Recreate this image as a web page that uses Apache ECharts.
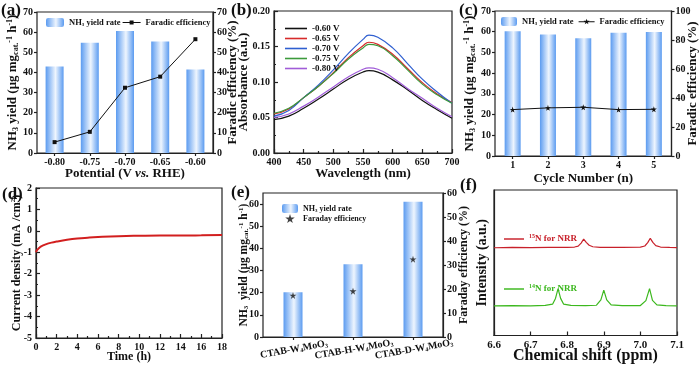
<!DOCTYPE html>
<html>
<head>
<meta charset="utf-8">
<script src="https://cdn.jsdelivr.net/npm/echarts@6/dist/echarts.min.js"></script>
<style>html,body{margin:0;padding:0;background:#fff}#main{width:700px;height:365px}</style>
</head>
<body>
<div id="main"></div>
<script>
// (a) potential dependence
var potentials = ['-0.80', '-0.75', '-0.70', '-0.65', '-0.60'];
var yieldA = [43.0, 54.7, 60.6, 55.4, 41.5];
var feA = [5.4, 10.5, 32.4, 37.9, 56.5];

// (b) UV-vis absorbance
var wavelengths = [400, 425, 450, 475, 500, 525, 550, 560, 575, 600, 625, 650, 675, 700];
var abs060 = [0.047, 0.052, 0.063, 0.076, 0.090, 0.104, 0.114, 0.116, 0.114, 0.103, 0.089, 0.074, 0.061, 0.049];
var abs065 = [0.055, 0.062, 0.078, 0.094, 0.113, 0.134, 0.151, 0.156, 0.153, 0.139, 0.119, 0.099, 0.083, 0.071];
var abs070 = [0.052, 0.060, 0.078, 0.096, 0.117, 0.140, 0.160, 0.166, 0.163, 0.148, 0.126, 0.104, 0.086, 0.070];
var abs075 = [0.056, 0.063, 0.078, 0.094, 0.112, 0.132, 0.148, 0.153, 0.151, 0.137, 0.117, 0.097, 0.082, 0.070];
var abs080 = [0.050, 0.055, 0.066, 0.079, 0.093, 0.107, 0.118, 0.120, 0.118, 0.106, 0.091, 0.077, 0.063, 0.051];

// (c) cycling
var cycles = ['1', '2', '3', '4', '5'];
var yieldC = [60.2, 58.6, 56.8, 59.5, 59.9];
var feC = [32.0, 33.2, 33.6, 32.0, 32.2];

// (d) chronoamperometry
var timeH = [0, 0.1, 0.3, 0.5, 1, 1.5, 2, 3, 4, 5, 6, 8, 10, 12, 14, 16, 18];
var currentD = [-1.0, -0.9, -0.8, -0.72, -0.62, -0.55, -0.5, -0.42, -0.36, -0.32, -0.29, -0.25, -0.23, -0.22, -0.22, -0.21, -0.19];

// (e) samples
var samples = ['CTAB-W4MoO3', 'CTAB-H-W4MoO3', 'CTAB-D-W4MoO3'];
var yieldE = [20.2, 32.8, 61.0];
var feE = [17.3, 19.1, 32.4];

// (f) 1H NMR
var shift15 = [6.60, 6.65, 6.70, 6.75, 6.80, 6.82, 6.83, 6.838, 6.845, 6.852, 6.86, 6.87, 6.89, 6.95, 7.00, 7.012, 7.020, 7.027, 7.034, 7.042, 7.055, 7.08, 7.10];
var int15 = [6.03, 6.06, 6.04, 6.06, 6.05, 6.08, 6.14, 6.35, 6.63, 6.40, 6.20, 6.10, 6.06, 6.05, 6.07, 6.15, 6.38, 6.68, 6.40, 6.18, 6.08, 6.05, 6.04];
var shift14 = [6.60, 6.65, 6.70, 6.74, 6.76, 6.768, 6.775, 6.782, 6.79, 6.81, 6.85, 6.88, 6.892, 6.900, 6.908, 6.92, 6.95, 7.00, 7.015, 7.025, 7.033, 7.045, 7.07, 7.10];
var int14 = [2.03, 2.06, 2.04, 2.07, 2.15, 2.55, 3.22, 2.55, 2.16, 2.07, 2.05, 2.08, 2.45, 3.12, 2.45, 2.10, 2.05, 2.06, 2.40, 3.22, 2.42, 2.10, 2.05, 2.03];

var F = "'Liberation Serif', 'DejaVu Serif', serif";
var INK = '#111';

function rich(size, lh) {
  var s = Math.round(size * 0.62);
  lh = lh || size + 1;
  return {
    b: { fontFamily: F, fontWeight: 'bold', fontSize: size, lineHeight: lh, color: INK },
    i: { fontFamily: F, fontWeight: 'bold', fontStyle: 'italic', fontSize: size, lineHeight: lh, color: INK },
    sub: { fontFamily: F, fontWeight: 'bold', fontSize: s, lineHeight: s, verticalAlign: 'bottom', color: INK },
    sup: { fontFamily: F, fontWeight: 'bold', fontSize: s, lineHeight: s, verticalAlign: 'top', color: INK }
  };
}
function chem(t) {
  // CTAB-W4MoO3 -> W with subscript 4, O with subscript 3
  return '{b|' + t.replace('W4', 'W}{sub|4}{b|').replace('O3', 'O}{sub|3}');
}
var yieldName = '{b|NH}{sub|3}{b| yield (μg mg}{sub|cat.}{sup|-1}{b| h}{sup|-1}{b|)}';
var yieldNameE = '{b|NH}{sub|3}{b|  yield (μg mg}{sub|cat.}{sup|-1}{b| h}{sup|-1}{b|)}';

var barGrad = new echarts.graphic.LinearGradient(0, 0, 1, 0, [
  { offset: 0, color: '#5b9bf0' },
  { offset: 0.55, color: '#eef5fe' },
  { offset: 1, color: '#5b9bf0' }
]);
var starPath = 'path://M50,0 L61,35 L98,35 L68,57 L79,91 L50,70 L21,91 L32,57 L2,35 L39,35 Z';
var dotLineIcon = 'path://M0,4 L18,4 L18,5 L0,5 Z M7,2.5 L11,2.5 L11,6.5 L7,6.5 Z';
var starLineIcon = 'path://M0,4 L18,4 L18,5 L0,5 Z M9,1 L9.82,3.37 L12.33,3.42 L10.33,4.93 L11.06,7.33 L9,5.9 L6.94,7.33 L7.67,4.93 L5.67,3.42 L8.18,3.37 Z';
var lineIcon = 'path://M0,0 L22,0 L22,1.6 L0,1.6 Z';

var lineSty = { color: '#222', width: 1.2 };
var tickFont = { fontFamily: F, fontWeight: 'bold', fontSize: 10, color: INK, margin: 4 };

function grid(l, t, w, h) {
  return { left: l, top: t, width: w, height: h, show: true, borderColor: '#222', borderWidth: 1.2, backgroundColor: 'rgba(0,0,0,0)' };
}
function axLine() { return { onZero: false, lineStyle: lineSty }; }
function outTick() { return { show: true, length: 3, lineStyle: lineSty }; }
function inTick() { return { show: true, inside: true, length: 4, lineStyle: lineSty }; }
function minor() { return { show: true, splitNumber: 2, length: 2, lineStyle: lineSty }; }
function nm(text, gap, size, rot) {
  var o = { name: text, nameLocation: 'middle', nameGap: gap, nameMoveOverlap: false, nameTextStyle: { rich: rich(size) } };
  if (rot) o.nameRotate = 90;
  return o;
}

var myChart = echarts.init(document.getElementById('main'), null, { renderer: 'canvas' });

var option = {
  animation: false,
  backgroundColor: '#fff',
  grid: [
    grid(37, 12, 176, 141),
    grid(274, 11, 178, 142),
    grid(495, 11, 177, 145),
    grid(36, 188, 186, 150),
    grid(263, 193, 180, 144),
    grid(494, 190, 183, 147)
  ],
  xAxis: [
    Object.assign({ gridIndex: 0, type: 'category', data: potentials, axisLine: axLine(),
      axisTick: Object.assign(outTick(), { alignWithLabel: true }), axisLabel: tickFont },
      nm('{b|Potential (V }{i|vs.}{b| RHE)}', 14, 13)),
    Object.assign({ gridIndex: 1, type: 'value', min: 400, max: 700, interval: 50, axisLine: axLine(),
      axisTick: inTick(), minorTick: minor(), splitLine: { show: false }, axisLabel: tickFont },
      nm('{b|Wavelength (nm)}', 14, 13)),
    Object.assign({ gridIndex: 2, type: 'category', data: cycles, axisLine: axLine(),
      axisTick: Object.assign(outTick(), { alignWithLabel: true }), axisLabel: tickFont },
      nm('{b|Cycle Number (n)}', 16, 13)),
    Object.assign({ gridIndex: 3, type: 'value', min: 0, max: 18, interval: 2, axisLine: axLine(),
      axisTick: inTick(), minorTick: minor(), splitLine: { show: false }, axisLabel: tickFont },
      nm('{b|Time (h)}', 12, 12)),
    { gridIndex: 4, type: 'category', data: samples, axisLine: axLine(),
      axisTick: Object.assign(outTick(), { alignWithLabel: true }),
      axisLabel: { interval: 0, hideOverlap: false, rotate: 10, margin: 7, align: 'center', verticalAlign: 'top', rich: rich(10),
        formatter: function (v) { return chem(v); } } },
    Object.assign({ gridIndex: 5, type: 'value', min: 6.6, max: 7.1, interval: 0.1, axisLine: axLine(),
      axisTick: inTick(), splitLine: { show: false },
      axisLabel: Object.assign({}, tickFont, { fontSize: 11, formatter: function (v) { return v.toFixed(1); } }) },
      nm('{b|Chemical shift (ppm)}', 12, 16))
  ],
  yAxis: [
    Object.assign({ gridIndex: 0, type: 'value', min: 0, max: 70, interval: 10, axisLine: axLine(),
      axisTick: outTick(), splitLine: { show: false }, axisLabel: tickFont },
      nm(yieldName, 17, 13, true)),
    Object.assign({ gridIndex: 0, type: 'value', position: 'right', min: 0, max: 70, interval: 10, axisLine: Object.assign(axLine(), { show: true }),
      axisTick: outTick(), splitLine: { show: false }, axisLabel: tickFont },
      nm('{b|Faradic efficiency (%)}', 13, 13, true)),
    Object.assign({ gridIndex: 1, type: 'value', min: 0, max: 0.2, interval: 0.05, axisLine: axLine(),
      axisTick: inTick(), minorTick: minor(), splitLine: { show: false },
      axisLabel: Object.assign({}, tickFont, { formatter: function (v) { return v.toFixed(2); } }) },
      nm('{b|Absorbance (a.u.)}', 23, 13, true)),
    Object.assign({ gridIndex: 2, type: 'value', min: 0, max: 70, interval: 10, axisLine: axLine(),
      axisTick: outTick(), splitLine: { show: false }, axisLabel: tickFont },
      nm(yieldName, 18, 13, true)),
    Object.assign({ gridIndex: 2, type: 'value', position: 'right', min: 0, max: 100, interval: 20, axisLine: Object.assign(axLine(), { show: true }),
      axisTick: outTick(), splitLine: { show: false }, axisLabel: tickFont },
      nm('{b|Faradic efficiency (%)}', 14, 13, true)),
    Object.assign({ gridIndex: 3, type: 'value', min: -5, max: 2, interval: 1, axisLine: axLine(),
      axisTick: inTick(), minorTick: minor(), splitLine: { show: false }, axisLabel: tickFont },
      nm('{b|Current density (mA /cm}{sup|2}{b|)}', 13, 12, true)),
    Object.assign({ gridIndex: 4, type: 'value', min: 0, max: 65, interval: 10, axisLine: axLine(),
      axisTick: outTick(), splitLine: { show: false }, axisLabel: Object.assign({ showMaxLabel: false }, tickFont) },
      nm(yieldNameE, 13, 11.5, true)),
    Object.assign({ gridIndex: 4, type: 'value', position: 'right', min: 0, max: 60, interval: 10, axisLine: Object.assign(axLine(), { show: true }),
      axisTick: outTick(), splitLine: { show: false }, axisLabel: tickFont },
      nm('{b|Faraday efficiency (%)}', 14, 12, true)),
    Object.assign({ gridIndex: 5, type: 'value', min: 0, max: 10, axisLine: axLine(),
      axisTick: { show: false }, axisLabel: { show: false }, splitLine: { show: false } },
      nm('{b|Intensity (a.u.)}', 4, 14, true))
  ],
  legend: [
    { left: 41, top: 13, itemWidth: 18, itemHeight: 9, itemGap: 2,
      data: ['yieldA', { name: 'feA', icon: dotLineIcon }],
      formatter: function (n) { return n === 'yieldA' ? '{b|NH}{sub|3}{b| yield rate}' : '{b|Faradic efficiency}'; },
      textStyle: { rich: rich(8.5, 10) } },
    { orient: 'vertical', left: 280, top: 19, itemWidth: 22, itemHeight: 8, itemGap: 1,
      data: ['-0.60 V', '-0.65 V', '-0.70 V', '-0.75 V', '-0.80 V'].map(function (n) { return { name: n, icon: lineIcon }; }),
      textStyle: { fontFamily: F, fontWeight: 'bold', fontSize: 9, color: INK } },
    { left: 496, top: 12, itemWidth: 16, itemHeight: 9, itemGap: 5,
      data: ['yieldC', { name: 'feC', icon: starLineIcon }],
      formatter: function (n) { return n === 'yieldC' ? '{b|NH}{sub|3}{b| yield rate}' : '{b|Faradic efficiency}'; },
      textStyle: { rich: rich(8.5, 10) } },
    { orient: 'vertical', left: 277, top: 199, itemWidth: 16, itemHeight: 9, itemGap: 1, data: ['yieldE', 'feE'],
      formatter: function (n) { return n === 'yieldE' ? '{b|NH}{sub|3}{b| yield rate}' : '{b|Faraday efficiency}'; },
      textStyle: { rich: rich(8, 9) } },
    { left: 499, top: 228, itemWidth: 20, itemHeight: 8, data: [{ name: 'n15', icon: lineIcon }],
      formatter: function () { return '{s|15}{t|N for NRR}'; },
      textStyle: { rich: {
        s: { fontFamily: F, fontWeight: 'bold', fontSize: 6, verticalAlign: 'top', lineHeight: 6, color: '#c8202a' },
        t: { fontFamily: F, fontWeight: 'bold', fontSize: 9, lineHeight: 12, color: '#c8202a' } } } },
    { left: 499, top: 278, itemWidth: 20, itemHeight: 8, data: [{ name: 'n14', icon: lineIcon }],
      formatter: function () { return '{s|14}{t|N for NRR}'; },
      textStyle: { rich: {
        s: { fontFamily: F, fontWeight: 'bold', fontSize: 6, verticalAlign: 'top', lineHeight: 6, color: '#3cb81e' },
        t: { fontFamily: F, fontWeight: 'bold', fontSize: 9, lineHeight: 12, color: '#3cb81e' } } } }
  ],
  graphic: [
    { type: 'text', left: 1, top: 2, style: { text: '(a)', font: 'bold 17px ' + F, fill: INK } },
    { type: 'text', left: 231, top: 2, style: { text: '(b)', font: 'bold 17px ' + F, fill: INK } },
    { type: 'text', left: 459, top: 2, style: { text: '(c)', font: 'bold 17px ' + F, fill: INK } },
    { type: 'text', left: 2, top: 186, style: { text: '(d)', font: 'bold 17px ' + F, fill: INK } },
    { type: 'text', left: 231, top: 184, style: { text: '(e)', font: 'bold 17px ' + F, fill: INK } },
    { type: 'text', left: 460, top: 177, style: { text: '(f)', font: 'bold 17px ' + F, fill: INK } }
  ],
  series: [
    { name: 'yieldA', type: 'bar', xAxisIndex: 0, yAxisIndex: 0, barWidth: 18, data: yieldA, itemStyle: { color: barGrad } },
    { name: 'feA', type: 'line', xAxisIndex: 0, yAxisIndex: 1, data: feA, symbol: 'rect', symbolSize: 4,
      itemStyle: { color: INK }, lineStyle: { color: INK, width: 1 } },

    { name: '-0.60 V', type: 'line', xAxisIndex: 1, yAxisIndex: 2, smooth: true, symbol: 'none',
      data: wavelengths.map(function (w, i) { return [w, abs060[i]]; }), itemStyle: { color: '#111' }, lineStyle: { width: 1.2 } },
    { name: '-0.65 V', type: 'line', xAxisIndex: 1, yAxisIndex: 2, smooth: true, symbol: 'none',
      data: wavelengths.map(function (w, i) { return [w, abs065[i]]; }), itemStyle: { color: '#d62b2b' }, lineStyle: { width: 1.2 } },
    { name: '-0.70 V', type: 'line', xAxisIndex: 1, yAxisIndex: 2, smooth: true, symbol: 'none',
      data: wavelengths.map(function (w, i) { return [w, abs070[i]]; }), itemStyle: { color: '#2f5fd0' }, lineStyle: { width: 1.2 } },
    { name: '-0.75 V', type: 'line', xAxisIndex: 1, yAxisIndex: 2, smooth: true, symbol: 'none',
      data: wavelengths.map(function (w, i) { return [w, abs075[i]]; }), itemStyle: { color: '#3c9a3c' }, lineStyle: { width: 1.2 } },
    { name: '-0.80 V', type: 'line', xAxisIndex: 1, yAxisIndex: 2, smooth: true, symbol: 'none',
      data: wavelengths.map(function (w, i) { return [w, abs080[i]]; }), itemStyle: { color: '#a05cd8' }, lineStyle: { width: 1.2 } },

    { name: 'yieldC', type: 'bar', xAxisIndex: 2, yAxisIndex: 3, barWidth: 16, data: yieldC, itemStyle: { color: barGrad } },
    { name: 'feC', type: 'line', xAxisIndex: 2, yAxisIndex: 4, data: feC, symbol: starPath, symbolSize: 6,
      itemStyle: { color: INK }, lineStyle: { color: INK, width: 1 } },

    { name: 'current', type: 'line', xAxisIndex: 3, yAxisIndex: 5, smooth: true, symbol: 'none',
      data: timeH.map(function (t, i) { return [t, currentD[i]]; }), itemStyle: { color: '#d21f1f' }, lineStyle: { width: 2 } },

    { name: 'yieldE', type: 'bar', xAxisIndex: 4, yAxisIndex: 6, barWidth: 19, data: yieldE, itemStyle: { color: barGrad } },
    { name: 'feE', type: 'scatter', xAxisIndex: 4, yAxisIndex: 7, data: feE, symbol: starPath, symbolSize: 7,
      itemStyle: { color: INK } },

    { name: 'n15', type: 'line', xAxisIndex: 5, yAxisIndex: 8, symbol: 'none',
      data: shift15.map(function (x, i) { return [x, int15[i]]; }), itemStyle: { color: '#c8202a' }, lineStyle: { width: 1.2 } },
    { name: 'n14', type: 'line', xAxisIndex: 5, yAxisIndex: 8, symbol: 'none',
      data: shift14.map(function (x, i) { return [x, int14[i]]; }), itemStyle: { color: '#3cb81e' }, lineStyle: { width: 1.2 } }
  ]
};
myChart.setOption(option);
</script>
</body>
</html>
